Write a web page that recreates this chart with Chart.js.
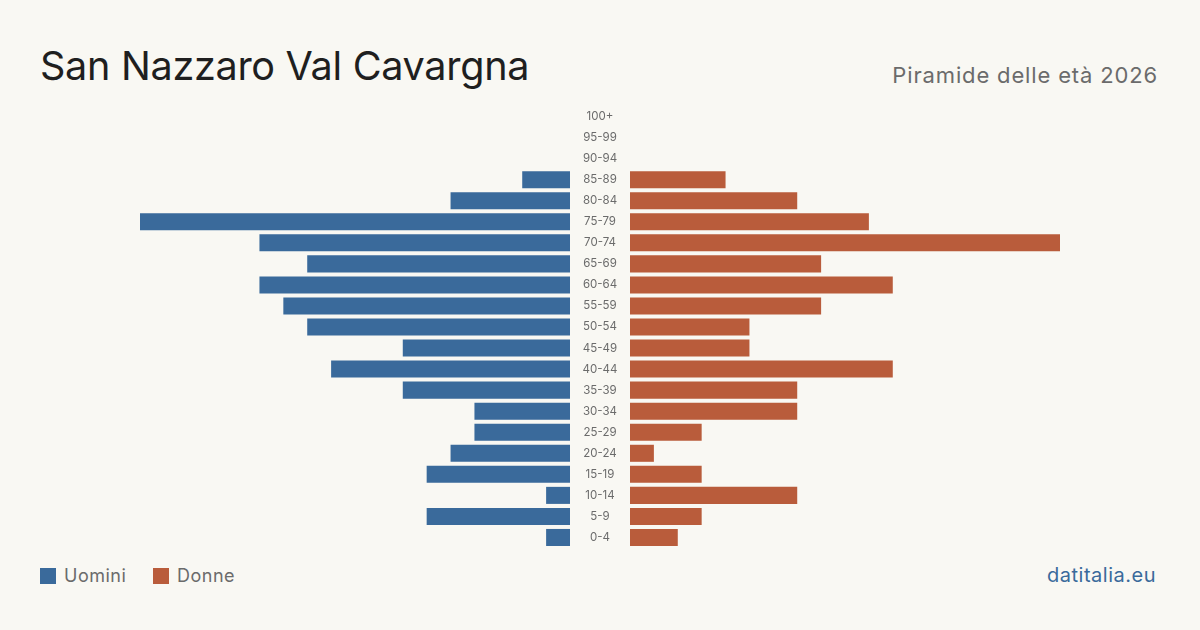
<!DOCTYPE html>
<html>
<head>
    <meta charset="utf-8">
    <title>San Nazzaro Val Cavargna - Piramide delle età 2026</title>
    <style>
        body { margin: 0; background: #f9f8f3; font-family: Inter, "Noto Sans", sans-serif; }
        #page { position: relative; width: 1200px; height: 630px; overflow: hidden; }
        h1 { position: absolute; left: 40px; top: 40px; margin: 0; font-size: 39.6px; font-weight: 400; color: #1f1f1f; letter-spacing: -0.3px; line-height: 52px; }
        #subtitle { position: absolute; right: 42px; top: 62px; font-size: 22px; color: #6b6b6b; letter-spacing: 0.85px; }
        #left { position: absolute; left: 140px; top: 106px; width: 430px; height: 442px; }
        #right { position: absolute; left: 570px; top: 106px; width: 490px; height: 442px; }
        .legend { position: absolute; top: 565px; font-size: 18px; color: #6b6b6b; display: flex; align-items: center; letter-spacing: 0.5px; }
        .legend span.box { width: 16px; height: 16px; display: inline-block; margin-right: 8px; }
        #source { position: absolute; right: 44px; top: 563px; font-size: 20px; color: #3a6a9b; letter-spacing: 0.5px; }
    </style>
</head>
<body>
<div id="page">
    <h1>San Nazzaro Val Cavargna</h1>
    <div id="subtitle">Piramide delle età 2026</div>
    <div id="left"><canvas id="menChart"></canvas></div>
    <div id="right"><canvas id="womenChart"></canvas></div>
    <div class="legend" style="left:40px"><span class="box" style="background:#3a6a9b"></span>Uomini</div>
    <div class="legend" style="left:153px"><span class="box" style="background:#b95c3b"></span>Donne</div>
    <div id="source">datitalia.eu</div>
</div>

<script src="https://cdn.jsdelivr.net/npm/chart.js"></script>
<script type="text/javascript">
    const ageGroups = ['100+', '95-99', '90-94', '85-89', '80-84', '75-79', '70-74', '65-69', '60-64',
        '55-59', '50-54', '45-49', '40-44', '35-39', '30-34', '25-29', '20-24', '15-19', '10-14', '5-9', '0-4'];
    const men = [0, 0, 0, 2, 5, 18, 13, 11, 13, 12, 11, 7, 10, 7, 4, 4, 5, 6, 1, 6, 1];
    const women = [0, 0, 0, 4, 7, 10, 18, 8, 11, 8, 5, 5, 11, 7, 7, 3, 1, 3, 7, 3, 2];
    const maxValue = Math.max(...men, ...women);

    const menColor = '#3a6a9b';
    const womenColor = '#b95c3b';
    const labelGap = 60;

    // age labels drawn in the gap left of the women's bars
    const ageLabels = {
        id: 'ageLabels',
        afterDraw(chart) {
            const ctx = chart.ctx;
            const yScale = chart.scales.y;
            const x = chart.chartArea.left - labelGap / 2;
            ctx.save();
            ctx.fillStyle = '#6b6b6b';
            ctx.font = '11.5px Inter';
            ctx.textAlign = 'center';
            ctx.textBaseline = 'middle';
            ageGroups.forEach((label, i) => {
                ctx.fillText(label, x, yScale.getPixelForTick(i));
            });
            ctx.restore();
        }
    };

    function baseOptions(reverse, padLeft) {
        return {
            indexAxis: 'y',
            responsive: true,
            maintainAspectRatio: false,
            animation: false,
            layout: { padding: { left: padLeft, right: 0, top: 0, bottom: 0 } },
            plugins: { legend: { display: false }, tooltip: { enabled: false } },
            scales: {
                x: { display: false, min: 0, max: maxValue, reverse: reverse },
                y: { display: false }
            }
        };
    }

    new Chart(document.getElementById('menChart'), {
        type: 'bar',
        data: {
            labels: ageGroups,
            datasets: [{
                label: 'Uomini',
                data: men,
                backgroundColor: menColor,
                barPercentage: 0.81,
                categoryPercentage: 1
            }]
        },
        options: baseOptions(true, 0)
    });

    new Chart(document.getElementById('womenChart'), {
        type: 'bar',
        data: {
            labels: ageGroups,
            datasets: [{
                label: 'Donne',
                data: women,
                backgroundColor: womenColor,
                barPercentage: 0.81,
                categoryPercentage: 1
            }]
        },
        options: baseOptions(false, labelGap),
        plugins: [ageLabels]
    });
</script>
</body>
</html>
